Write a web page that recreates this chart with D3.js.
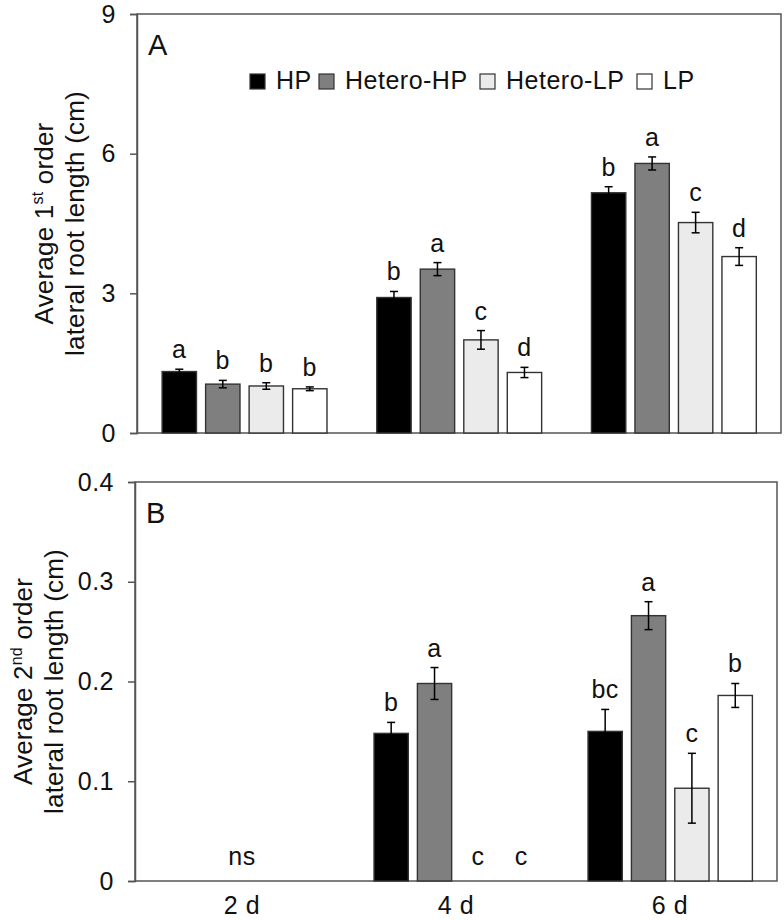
<!DOCTYPE html>
<html><head><meta charset="utf-8">
<script src="https://cdn.jsdelivr.net/npm/d3@7"></script>
<style>
html,body{margin:0;padding:0;background:#fff;}
svg{display:block;font-family:"Liberation Sans",Arial,Helvetica,sans-serif;}
</style></head>
<body>
<svg id="chart" width="784" height="920"></svg>
<script>
const groups = ["2 d", "4 d", "6 d"];
const series = ["HP", "Hetero-HP", "Hetero-LP", "LP"];

const firstOrderMean = [[1.32, 1.05, 1.01, 0.95], [2.91, 3.52, 2.00, 1.30], [5.16, 5.79, 4.52, 3.79]];
const firstOrderSE = [[0.05, 0.08, 0.07, 0.04], [0.13, 0.14, 0.20, 0.11], [0.13, 0.14, 0.22, 0.19]];
const firstOrderLetters = [["a", "b", "b", "b"], ["b", "a", "c", "d"], ["b", "a", "c", "d"]];
const firstOrderTicks = [0, 3, 6, 9];

const secondOrderMean = [[0, 0, 0, 0], [0.148, 0.198, 0, 0], [0.150, 0.266, 0.093, 0.186]];
const secondOrderSE = [[0, 0, 0, 0], [0.011, 0.016, 0, 0], [0.022, 0.014, 0.035, 0.012]];
const secondOrderLetters = [["", "", "", ""], ["b", "a", "c", "c"], ["bc", "a", "c", "b"]];
const secondOrderGroupNote = ["ns", "", ""];
const secondOrderTicks = [0, 0.1, 0.2, 0.3, 0.4];

const fills = ["#000000", "#7f7f7f", "#ebebeb", "#ffffff"];
const frameColor = "#555555";
const textColor = "#111111";
const FS = 25, LS = 0.5;

const svg = d3.select("#chart");

function panel(opts) {
  const g = svg.append("g");
  const x0 = d3.scaleBand().domain(groups).range([opts.left, opts.right]);
  const bw = x0.bandwidth();
  const x1 = d3.scaleBand().domain(series).range([0.117 * bw, 0.885 * bw]).paddingInner(0.21);
  const y = d3.scaleLinear().domain(opts.domain).range([opts.bottom, opts.top]);

  g.append("rect").attr("x", opts.left).attr("y", opts.top)
    .attr("width", opts.right - opts.left).attr("height", opts.bottom - opts.top)
    .attr("fill", "none").attr("stroke", frameColor).attr("stroke-width", 1.5);

  const yAxis = d3.axisLeft(y).tickValues(opts.ticks).tickSize(7).tickPadding(14)
    .tickFormat(opts.fmt);
  const ya = g.append("g").attr("transform", `translate(${opts.left},0)`).call(yAxis);
  ya.select(".domain").attr("stroke", frameColor).attr("stroke-width", 1.5);
  ya.selectAll(".tick line").attr("stroke", frameColor).attr("stroke-width", 1.5);
  ya.selectAll(".tick text").attr("font-size", FS).attr("letter-spacing", LS).attr("fill", textColor)
    .attr("font-family", "Liberation Sans, Arial, sans-serif");

  groups.forEach((grp, gi) => {
    series.forEach((s, si) => {
      const v = opts.mean[gi][si];
      const e = opts.se[gi][si];
      const xl = x0(grp) + x1(s);
      const cx = xl + x1.bandwidth() / 2;
      if (v > 0) {
        g.append("rect").attr("x", xl).attr("y", y(v))
          .attr("width", x1.bandwidth()).attr("height", y(0) - y(v))
          .attr("fill", fills[si]).attr("stroke", "#333").attr("stroke-width", 1.4);
        g.append("line").attr("x1", cx).attr("x2", cx).attr("y1", y(v - e)).attr("y2", y(v + e))
          .attr("stroke", "#000").attr("stroke-width", 1.5);
        [v - e, v + e].forEach(t => {
          g.append("line").attr("x1", cx - 4).attr("x2", cx + 4).attr("y1", y(t)).attr("y2", y(t))
            .attr("stroke", "#000").attr("stroke-width", 1.5);
        });
      }
      const lab = opts.letters[gi][si];
      if (lab) {
        const by = v > 0 ? y(v + e) - 11 : y(0) - 16;
        g.append("text").attr("x", cx).attr("y", by).attr("text-anchor", "middle")
          .attr("font-size", FS).attr("letter-spacing", LS).attr("fill", textColor).text(lab);
      }
    });
    if (opts.note && opts.note[gi]) {
      g.append("text").attr("x", x0(grp) + bw / 2).attr("y", y(0) - 16)
        .attr("text-anchor", "middle").attr("font-size", FS).attr("letter-spacing", LS)
        .attr("fill", textColor).text(opts.note[gi]);
    }
  });

  g.append("text").attr("x", opts.left + 11).attr("y", opts.top + 41)
    .attr("font-size", 29).attr("fill", textColor).text(opts.panelLabel);

  const cy = (opts.top + opts.bottom) / 2;
  const t1 = g.append("text").attr("transform", `translate(${opts.titleX1},${cy}) rotate(-90)`)
    .attr("text-anchor", "middle").attr("font-size", 26).attr("letter-spacing", 0.2).attr("fill", textColor);
  t1.append("tspan").text(`Average ${opts.ordNum}`);
  t1.append("tspan").attr("font-size", 16).attr("dy", -10).text(opts.ordSup);
  t1.append("tspan").attr("dy", 10).text(" order");
  g.append("text").attr("transform", `translate(${opts.titleX2},${cy}) rotate(-90)`)
    .attr("text-anchor", "middle").attr("font-size", 26).attr("letter-spacing", 0.2).attr("fill", textColor)
    .text("lateral root length (cm)");

  return { x0, y, bw };
}

const A = panel({
  left: 137, right: 781, top: 14, bottom: 433, domain: [0, 9], ticks: firstOrderTicks,
  fmt: d3.format("d"), mean: firstOrderMean, se: firstOrderSE, letters: firstOrderLetters,
  panelLabel: "A", ordNum: "1", ordSup: "st", titleX1: 53, titleX2: 84
});

const B = panel({
  left: 135, right: 777, top: 482, bottom: 881, domain: [0, 0.4], ticks: secondOrderTicks,
  fmt: d => d === 0 ? "0" : d3.format(".1f")(d), mean: secondOrderMean, se: secondOrderSE,
  letters: secondOrderLetters, note: secondOrderGroupNote,
  panelLabel: "B", ordNum: "2", ordSup: "nd", titleX1: 32, titleX2: 63
});

svg.append("g").selectAll("text").data(groups).join("text")
  .attr("x", d => B.x0(d) + B.bw / 2).attr("y", 914).attr("text-anchor", "middle")
  .attr("font-size", FS).attr("letter-spacing", LS).attr("fill", textColor).text(d => d);

const legX = [250, 319, 480, 637];
const leg = svg.append("g");
series.forEach((s, i) => {
  leg.append("rect").attr("x", legX[i]).attr("y", 74).attr("width", 15).attr("height", 15)
    .attr("fill", fills[i]).attr("stroke", "#333").attr("stroke-width", 1.2);
  leg.append("text").attr("x", legX[i] + 26).attr("y", 89).attr("font-size", FS)
    .attr("letter-spacing", LS).attr("fill", textColor).text(s);
});
</script>
</body></html>
